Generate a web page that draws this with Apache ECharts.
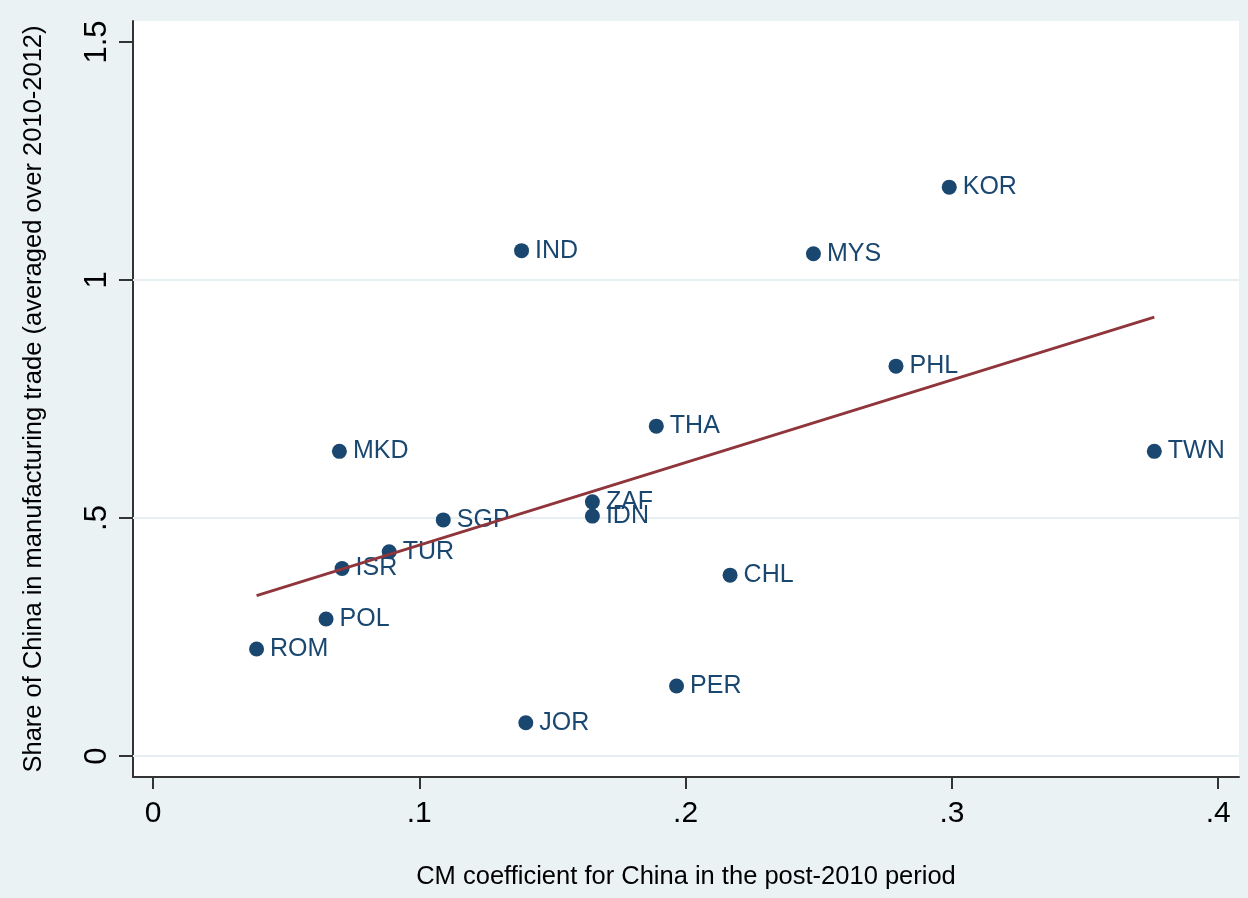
<!DOCTYPE html>
<html>
<head>
<meta charset="utf-8">
<script src="https://cdn.jsdelivr.net/npm/echarts@6/dist/echarts.min.js"></script>
<style>
    html, body { margin: 0; padding: 0; background: #EAF2F3; }
    #main { width: 1248px; height: 898px; }
</style>
</head>
<body>
<div id="main"></div>
<script>
// country codes and their values
const countries = ['KOR', 'IND', 'MYS', 'PHL', 'THA', 'MKD', 'TWN', 'ZAF', 'IDN', 'SGP', 'TUR', 'ISR', 'CHL', 'POL', 'ROM', 'PER', 'JOR'];
const cmCoef = [0.299, 0.1384, 0.248, 0.279, 0.189, 0.070, 0.376, 0.165, 0.165, 0.109, 0.0887, 0.071, 0.2167, 0.065, 0.0389, 0.1966, 0.140];
const chinaShare = [1.195, 1.0616, 1.055, 0.819, 0.693, 0.640, 0.640, 0.534, 0.504, 0.496, 0.429, 0.394, 0.380, 0.288, 0.225, 0.147, 0.070];

// fitted line end points
const fitX = [0.0389, 0.376];
const fitY = [0.337, 0.922];

const xTicks = [0, 0.1, 0.2, 0.3, 0.4];
const yTicks = [0, 0.5, 1, 1.5];
// stata leaves out the gridline at the top tick
const yGrid = [0, 0.5, 1];

const font = '"Liberation Sans", Arial, sans-serif';
const navy = '#1A476F';
const maroon = '#90353B';

// stata style: no leading zero
const fmt = function (v) {
    if (v === 0) return '0';
    return String(+v.toFixed(2)).replace(/^0\./, '.');
};

const points = [];
for (let i = 0; i < countries.length; i++) {
    points.push([cmCoef[i], chinaShare[i], countries[i]]);
}
const fit = [];
for (let i = 0; i < fitX.length; i++) {
    fit.push([fitX[i], fitY[i]]);
}

const chart = echarts.init(document.getElementById('main'));
chart.setOption({
    backgroundColor: '#EAF2F3'
    , animation: false
    , textStyle: {fontFamily: font}
    , grid: {
        left: 133
        , top: 21
        , right: 9
        , bottom: 121
        , show: true
        , backgroundColor: '#fff'
        , borderWidth: 0
    }
    , xAxis: {
        type: 'value'
        , min: -0.0075
        , max: 0.4078
        , name: 'CM coefficient for China in the post-2010 period'
        , nameLocation: 'middle'
        , nameGap: 87
        , nameTextStyle: {fontSize: 25.5, color: '#000', fontFamily: font}
        , axisLine: {show: true, onZero: false, lineStyle: {color: '#333', width: 2}}
        , axisTick: {show: true, length: 12, customValues: xTicks, lineStyle: {color: '#333', width: 2}}
        , axisLabel: {
            customValues: xTicks
            , formatter: fmt
            , fontSize: 30
            , color: '#000'
            , margin: 22
            , fontFamily: font
        }
        , splitLine: {show: false}
    }
    , yAxis: {
        type: 'value'
        , min: -0.044
        , max: 1.544
        , name: 'Share of China in manufacturing trade (averaged over 2010-2012)'
        , nameLocation: 'middle'
        , nameGap: 86
        , nameTextStyle: {fontSize: 25.5, color: '#000', fontFamily: font}
        , axisLine: {show: true, onZero: false, lineStyle: {color: '#333', width: 2}}
        , axisTick: {show: true, length: 14, customValues: yTicks, lineStyle: {color: '#333', width: 2}}
        , axisLabel: {
            customValues: yTicks
            , formatter: fmt
            , rotate: 90
            , fontSize: 31
            , color: '#000'
            , margin: 20
            , fontFamily: font
        }
        , splitLine: {show: false}
    }
    , series: [
        {
            // gridlines only, kept below the markers
            name: 'grid'
            , type: 'scatter'
            , data: []
            , z: 1
            , markLine: {
                silent: true
                , z: 1
                , symbol: 'none'
                , label: {show: false}
                , lineStyle: {color: '#E6EEF1', width: 2, type: 'solid'}
                , data: yGrid.map(function (v) { return {yAxis: v}; })
            }
        }
        , {
            name: 'countries'
            , type: 'scatter'
            , data: points
            , symbolSize: 15
            , z: 2
            , itemStyle: {color: navy, opacity: 1}
            , label: {
                show: true
                , position: 'right'
                , distance: 6
                , formatter: function (p) { return p.data[2]; }
                , color: navy
                , fontSize: 25
                , fontFamily: font
            }
        }
        , {
            name: 'fit'
            , type: 'line'
            , data: fit
            , symbol: 'none'
            , z: 3
            , lineStyle: {color: maroon, width: 2.8}
        }
    ]
});
</script>
</body>
</html>
